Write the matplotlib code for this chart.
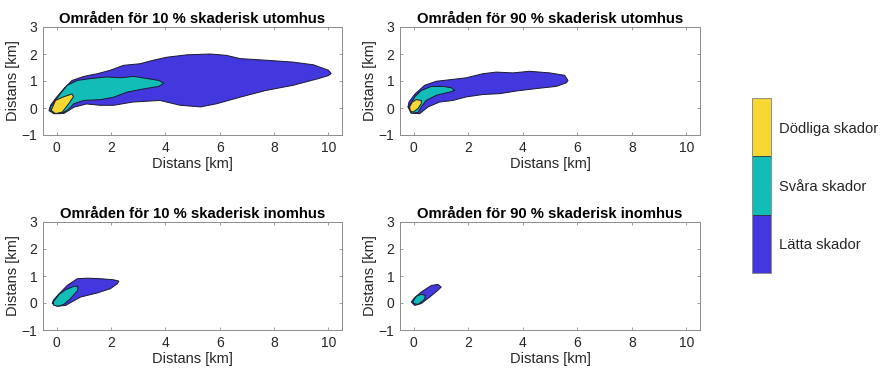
import matplotlib.pyplot as plt
from matplotlib.colors import ListedColormap, BoundaryNorm
from matplotlib.cm import ScalarMappable

plt.rcParams["font.family"] = ["Liberation Sans", "DejaVu Sans"]

# Outline points (km), per panel: [lätta, svåra, dödliga]
UT10_LATT = [(-0.28, -0.1), (-0.1, -0.2), (0.27, -0.2), (0.64, 0.03), (1.1, 0.15), (1.6, 0.1),
             (2.1, 0.1), (2.8, 0.22), (3.8, 0.28), (4.55, 0.1), (5.3, 0.04), (5.9, 0.16),
             (6.75, 0.4), (7.7, 0.65), (8.7, 0.84), (9.6, 1.08), (10.0, 1.2), (10.1, 1.28),
             (10.0, 1.4), (9.45, 1.6), (8.7, 1.7), (7.7, 1.77), (6.75, 1.83), (6.25, 1.95),
             (5.65, 2.0), (4.8, 1.97), (4.05, 1.88), (3.56, 1.77), (3.07, 1.64), (2.46, 1.58),
             (1.98, 1.4), (1.5, 1.27), (1.0, 1.17), (0.57, 1.02), (0.27, 0.72), (-0.04, 0.35),
             (-0.22, 0.1)]
UT10_SVAR = [(-0.22, 0.04), (0.09, 0.47), (0.39, 0.84), (0.76, 1.02), (1.25, 1.09), (1.86, 1.15),
             (2.35, 1.12), (2.84, 1.17), (3.33, 1.09), (3.76, 1.02), (3.94, 0.92), (3.76, 0.8),
             (3.21, 0.71), (2.6, 0.59), (2.1, 0.4), (1.62, 0.31), (1.0, 0.28), (0.64, 0.16),
             (0.39, -0.09), (0.15, -0.21), (-0.1, -0.21), (-0.25, -0.09)]
UT10_DOD = [(-0.2, -0.09), (-0.04, 0.28), (0.27, 0.42), (0.57, 0.52), (0.62, 0.42), (0.45, 0.16),
            (0.21, -0.15), (-0.04, -0.21)]

UT90_LATT = [(-0.21, 0.04), (-0.09, -0.19), (0.22, -0.21), (0.53, 0.04), (0.95, 0.22), (1.44, 0.28),
             (1.93, 0.41), (2.54, 0.5), (3.15, 0.53), (3.77, 0.63), (4.5, 0.72), (5.23, 0.8),
             (5.6, 0.93), (5.66, 1.02), (5.54, 1.21), (4.99, 1.3), (4.25, 1.36), (3.64, 1.3),
             (3.03, 1.33), (2.54, 1.27), (1.93, 1.12), (1.44, 1.06), (0.83, 0.99), (0.4, 0.84),
             (0.04, 0.51), (-0.17, 0.22)]
UT90_SVAR = [(-0.17, 0.04), (0.04, 0.41), (0.28, 0.65), (0.65, 0.8), (1.08, 0.8), (1.38, 0.75),
             (1.5, 0.65), (1.32, 0.59), (0.83, 0.47), (0.46, 0.28), (0.28, 0.04), (0.16, -0.17),
             (-0.09, -0.19)]
UT90_DOD = [(-0.15, 0.04), (-0.05, 0.22), (0.1, 0.31), (0.28, 0.28), (0.28, 0.16), (0.16, -0.02),
            (-0.02, -0.15), (-0.12, -0.11)]

IN10_LATT = [(-0.16, -0.02), (0.02, -0.12), (0.33, -0.09), (0.88, 0.22), (1.49, 0.37), (1.98, 0.53),
             (2.23, 0.71), (2.29, 0.81), (2.1, 0.86), (1.62, 0.9), (1.13, 0.92), (0.76, 0.9),
             (0.39, 0.65), (0.09, 0.34), (-0.12, 0.1)]
IN10_SVAR = [(-0.12, 0.04), (0.09, 0.32), (0.33, 0.49), (0.64, 0.62), (0.78, 0.62), (0.78, 0.47),
             (0.51, 0.16), (0.27, -0.05), (0.05, -0.12), (-0.1, -0.09)]

IN90_LATT = [(-0.09, 0.04), (0.04, -0.09), (0.28, -0.02), (0.59, 0.22), (0.89, 0.47), (1.01, 0.59),
             (0.89, 0.69), (0.65, 0.65), (0.28, 0.41), (0.04, 0.2)]
IN90_SVAR = [(-0.02, 0.06), (0.1, 0.25), (0.28, 0.32), (0.44, 0.28), (0.37, 0.1), (0.16, -0.05),
             (0.0, -0.02)]

TITLES = ["Områden för 10 % skaderisk utomhus", "Områden för 90 % skaderisk utomhus",
          "Områden för 10 % skaderisk inomhus", "Områden för 90 % skaderisk inomhus"]
PANELS = [[UT10_LATT, UT10_SVAR, UT10_DOD], [UT90_LATT, UT90_SVAR, UT90_DOD],
          [IN10_LATT, IN10_SVAR], [IN90_LATT, IN90_SVAR]]
LEVELS = ["Lätta skador", "Svåra skador", "Dödliga skador"]
COLORS = ["#4338DD", "#13BDB7", "#F7D731"]

X_TICKS = [0, 2, 4, 6, 8, 10]
Y_TICKS = [-1, 0, 1, 2, 3]

W, H = 884, 371
fig = plt.figure(figsize=(W / 100, H / 100), dpi=100, facecolor="white")

# axes boxes in pixels: left, top, right, bottom
boxes = [(43, 27, 342, 135), (400, 27, 700, 135), (43, 222, 342, 330), (400, 222, 700, 330)]

for (l, t, r, b), title, shapes in zip(boxes, TITLES, PANELS):
    ax = fig.add_axes([l / W, 1 - b / H, (r - l) / W, (b - t) / H])
    for pts, color in zip(shapes, COLORS):
        xs = [p[0] for p in pts]
        ys = [p[1] for p in pts]
        ax.fill(xs, ys, facecolor=color, edgecolor="#1a1a2e", linewidth=0.7, joinstyle="round")
    ax.set_xlim(-0.5, 10.5)
    ax.set_ylim(-1, 3)
    ax.set_xticks(X_TICKS)
    ax.set_yticks(Y_TICKS)
    ax.tick_params(direction="in", length=2.5, width=0.6, top=True, right=True,
                   labelsize=10, colors="#8c8c8c", labelcolor="#262626", pad=4)
    for s in ax.spines.values():
        s.set_color("#8c8c8c")
        s.set_linewidth(0.7)
    ax.set_xlabel("Distans [km]", fontsize=10.5, color="#262626", labelpad=2)
    ax.set_ylabel("Distans [km]", fontsize=10.5, color="#262626", labelpad=1)
    ax.set_title(title, fontsize=10.7, fontweight="bold", color="#000000", pad=3)

# Legend bar
cax = fig.add_axes([752 / W, 1 - 273 / H, 19 / W, 175 / H])
cmap = ListedColormap(COLORS)
norm = BoundaryNorm([0, 1, 2, 3], cmap.N)
cb = fig.colorbar(ScalarMappable(norm=norm, cmap=cmap), cax=cax)
cb.set_ticks([0.5, 1.5, 2.5])
cb.set_ticklabels(LEVELS)
cb.minorticks_off()
cb.ax.tick_params(which="both", length=0, labelsize=10.6, labelcolor="#262626", pad=6)
cb.outline.set_edgecolor("#8c8c8c")
cb.outline.set_linewidth(0.7)
cb.ax.axhline(1, color="#333333", linewidth=0.6)
cb.ax.axhline(2, color="#333333", linewidth=0.6)

fig.savefig("out.png", dpi=100, facecolor="white")
